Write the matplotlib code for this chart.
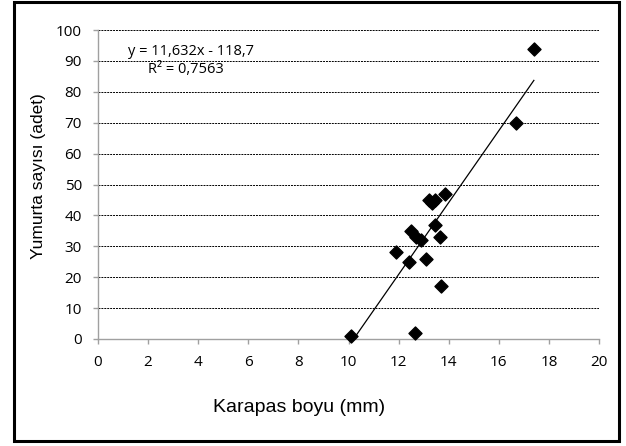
import matplotlib
matplotlib.use("Agg")
import matplotlib.pyplot as plt
from matplotlib.patches import Rectangle
import numpy as np

# Carapace length (mm) and egg count per female
karapas_boyu = [10.1, 11.9, 12.4, 12.5, 12.7, 12.9, 12.65, 13.1, 13.2, 13.35,
                13.45, 13.85, 13.45, 13.65, 13.7, 16.7, 17.4]
yumurta_sayisi = [1, 28, 25, 35, 33, 32, 2, 26, 45, 44,
                  45, 47, 37, 33, 17, 70, 94]

# Linear trend line parameters
egim = 11.632
kesisim = -118.7
r_kare = 0.7563

x_ticks = list(range(0, 21, 2))
y_ticks = list(range(0, 101, 10))

tick_font = ["Open Sans", "DejaVu Sans"]
label_font = ["Liberation Sans", "DejaVu Sans"]

fig = plt.figure(figsize=(6.26, 4.46), dpi=100)
ax = fig.add_axes([98 / 626, 1 - 339 / 446, 501 / 626, 309 / 446])

# outer chart frame
fig.patches.append(Rectangle((14 / 626, 5 / 446), 605 / 626, 439 / 446,
                             transform=fig.transFigure, fill=False,
                             edgecolor="black", linewidth=2.2))

ax.set_xlim(0, 20)
ax.set_ylim(0, 100)
ax.set_xticks(x_ticks)
ax.set_yticks(y_ticks)
ax.set_xticklabels([str(t) for t in x_ticks], fontfamily=tick_font, fontsize=11)
ax.set_yticklabels([str(t) for t in y_ticks], fontfamily=tick_font, fontsize=11)

for t in y_ticks[1:]:
    ax.axhline(t, color="black", linestyle=(0, (2, 1)), linewidth=0.7, zorder=1)

for side in ("top", "right"):
    ax.spines[side].set_visible(False)
for side in ("left", "bottom"):
    ax.spines[side].set_color("#a0a0a0")
    ax.spines[side].set_linewidth(1.0)
ax.tick_params(axis="both", direction="out", length=3.6, color="#a0a0a0",
               width=1.0)
ax.tick_params(axis="y", pad=8)
ax.tick_params(axis="x", pad=8)

# trend line over the observed range
xs = np.array([min(karapas_boyu), max(karapas_boyu)])
ax.plot(xs, egim * xs + kesisim, color="black", linewidth=0.9, zorder=2)

ax.scatter(karapas_boyu, yumurta_sayisi, marker="D", s=44, color="black",
           zorder=3, clip_on=False)

ax.text(3.71, 93.0, "y = 11,632x - 118,7", fontfamily=tick_font, fontsize=10.5,
        ha="center", va="center")
ax.text(3.5, 87.3, "R² = 0,7563", fontfamily=tick_font, fontsize=10.5,
        ha="center", va="center")

fig.text(299 / 626, 1 - 407 / 446, "Karapas boyu (mm)", fontfamily=label_font,
         fontsize=14, ha="center", va="center")
fig.text(39 / 626, 1 - 176 / 446, "Yumurta sayısı (adet)", fontfamily=label_font,
         fontsize=12.5, ha="center", va="center", rotation=90)

fig.savefig("out.png", dpi=100)
